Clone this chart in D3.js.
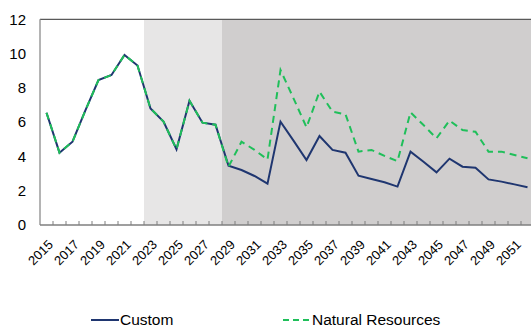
<!DOCTYPE html>
<html><head><meta charset="utf-8">
<script src="https://cdn.jsdelivr.net/npm/d3@7"></script>
<style>body{margin:0;background:#fff}svg{display:block;font-family:"Liberation Sans",Arial,sans-serif}</style>
</head><body><svg id="c" width="531" height="331"></svg>
<script>
const years = d3.range(2015, 2053);
const custom = [6.55,4.22,4.86,6.7,8.46,8.75,9.92,9.3,6.8,6.03,4.42,7.25,5.97,5.85,3.46,3.21,2.86,2.41,6.03,4.92,3.79,5.19,4.38,4.22,2.88,2.68,2.49,2.24,4.28,3.69,3.07,3.87,3.4,3.34,2.66,2.53,2.37,2.2];
const natural = [6.55,4.22,4.86,6.7,8.46,8.75,9.92,9.3,6.8,6.03,4.42,7.25,5.97,5.85,3.4,4.86,4.38,3.82,9.04,7.39,5.7,7.78,6.61,6.46,4.28,4.38,4.03,3.72,6.57,5.83,5.06,6.09,5.54,5.44,4.28,4.28,4.08,3.89];
const yTicks = [0,2,4,6,8,10,12];
const xLabels = years.filter((y,i)=>i%2===0);
const periods = [{from:2015,to:2022,fill:"#ffffff"},{from:2023,to:2028,fill:"#e7e6e6"},{from:2029,to:2052,fill:"#d0cece"}];

const svg = d3.select("#c");
const L=40, T=19.3, B=225, R=40+38*13;
const x = d3.scaleBand().domain(years).range([L,R]);
const y = d3.scaleLinear().domain([0,12]).range([B,T]);

svg.selectAll("rect.p").data(periods).enter().append("rect")
  .attr("x",d=>x(d.from)).attr("width",d=>x(d.to)+x.bandwidth()-x(d.from))
  .attr("y",T).attr("height",B-T).attr("fill",d=>d.fill);

// frame
svg.append("line").attr("x1",L).attr("x2",R).attr("y1",T).attr("y2",T).attr("stroke","#595959").attr("stroke-width",1.3);
svg.append("line").attr("x1",L).attr("x2",L).attr("y1",T).attr("y2",B).attr("stroke","#8c8c8c").attr("stroke-width",1.3);

// x axis
const xa = svg.append("g");
xa.append("line").attr("x1",L).attr("x2",R).attr("y1",B).attr("y2",B).attr("stroke","#7f7f7f").attr("stroke-width",1.3);
xa.selectAll("line.t").data(years).enter().append("line")
  .attr("x1",d=>x(d)+x.bandwidth()).attr("x2",d=>x(d)+x.bandwidth())
  .attr("y1",B).attr("y2",B-4).attr("stroke","#7f7f7f");
xa.selectAll("text").data(xLabels).enter().append("text")
  .attr("transform",d=>`translate(${x(d)+x.bandwidth()/2+1},${B+14}) rotate(-45)`)
  .attr("text-anchor","end").attr("dy","0.7em").attr("font-size",13).attr("fill","#000").text(d=>d);

// y labels
svg.selectAll("text.y").data(yTicks).enter().append("text")
  .attr("x",26).attr("y",d=>y(d)).attr("dy","0.35em").attr("text-anchor","end")
  .attr("font-size",15).attr("fill","#000").text(d=>d);

const line = d3.line().x((d,i)=>x(years[i])+x.bandwidth()/2).y(d=>y(d));
svg.append("path").datum(custom).attr("d",line).attr("fill","none").attr("stroke","#1f3670").attr("stroke-width",2);
svg.append("path").datum(natural).attr("d",line).attr("fill","none").attr("stroke","#1fbf5a").attr("stroke-width",2).attr("stroke-dasharray","7,5");

// legend
const lg = svg.append("g");
lg.append("line").attr("x1",91).attr("x2",119).attr("y1",320).attr("y2",320).attr("stroke","#1f3670").attr("stroke-width",2);
lg.append("text").attr("x",120).attr("y",320).attr("dy","0.35em").attr("font-size",15.5).text("Custom");
lg.append("line").attr("x1",283).attr("x2",311).attr("y1",320).attr("y2",320).attr("stroke","#1fbf5a").attr("stroke-width",2).attr("stroke-dasharray","6,4");
lg.append("text").attr("x",312).attr("y",320).attr("dy","0.35em").attr("font-size",15.5).text("Natural Resources");
</script></body></html>
